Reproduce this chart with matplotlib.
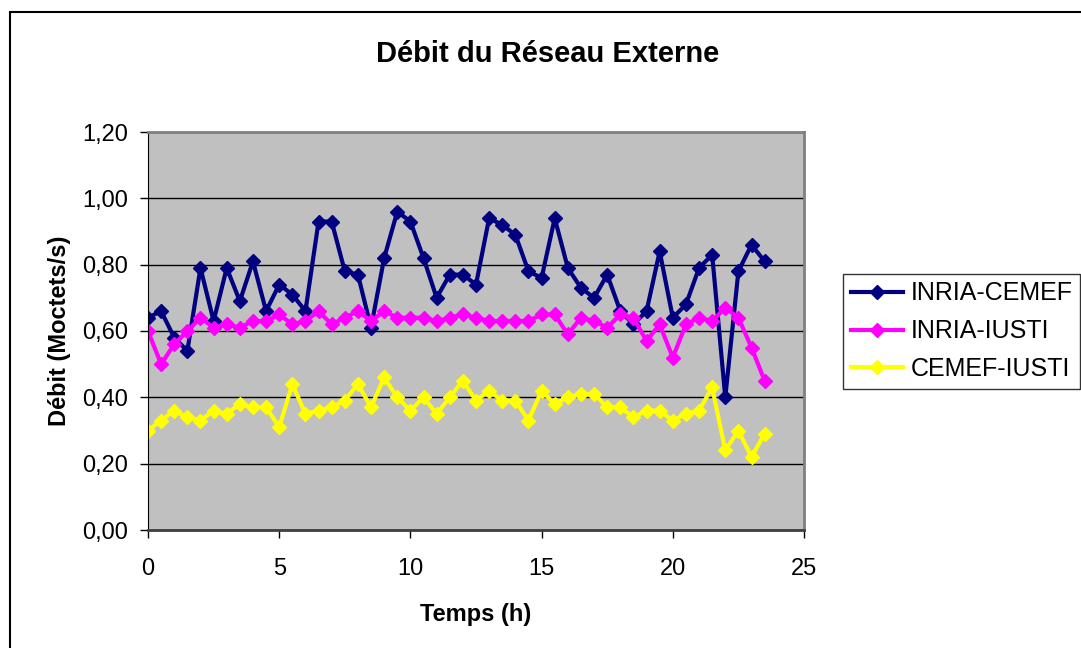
import matplotlib.pyplot as plt
import numpy as np
from matplotlib.patches import Rectangle

plt.rcParams['font.family'] = ['Liberation Sans', 'DejaVu Sans']

# temps en heures, un point toutes les 30 min
temps = np.arange(0, 24, 0.5)

inria_cemef = [0.64, 0.66, 0.58, 0.54, 0.79, 0.63, 0.79, 0.69, 0.81, 0.66,
               0.74, 0.71, 0.66, 0.93, 0.93, 0.78, 0.77, 0.61, 0.82, 0.96,
               0.93, 0.82, 0.70, 0.77, 0.77, 0.74, 0.94, 0.92, 0.89, 0.78,
               0.76, 0.94, 0.79, 0.73, 0.70, 0.77, 0.66, 0.62, 0.66, 0.84,
               0.64, 0.68, 0.79, 0.83, 0.40, 0.78, 0.86, 0.81]
inria_iusti = [0.60, 0.50, 0.56, 0.60, 0.64, 0.61, 0.62, 0.61, 0.63, 0.63,
               0.65, 0.62, 0.63, 0.66, 0.62, 0.64, 0.66, 0.63, 0.66, 0.64,
               0.64, 0.64, 0.63, 0.64, 0.65, 0.64, 0.63, 0.63, 0.63, 0.63,
               0.65, 0.65, 0.59, 0.64, 0.63, 0.61, 0.65, 0.64, 0.57, 0.62,
               0.52, 0.62, 0.64, 0.63, 0.67, 0.64, 0.55, 0.45]
cemef_iusti = [0.30, 0.33, 0.36, 0.34, 0.33, 0.36, 0.35, 0.38, 0.37, 0.37,
               0.31, 0.44, 0.35, 0.36, 0.37, 0.39, 0.44, 0.37, 0.46, 0.40,
               0.36, 0.40, 0.35, 0.40, 0.45, 0.39, 0.42, 0.39, 0.39, 0.33,
               0.42, 0.38, 0.40, 0.41, 0.41, 0.37, 0.37, 0.34, 0.36, 0.36,
               0.33, 0.35, 0.36, 0.43, 0.24, 0.30, 0.22, 0.29]

series = [('INRIA-CEMEF', inria_cemef, '#000080'),
          ('INRIA-IUSTI', inria_iusti, '#FF00FF'),
          ('CEMEF-IUSTI', cemef_iusti, '#FFFF00')]

W, H = 1081, 648
fig = plt.figure(figsize=(W / 100, H / 100), dpi=100)
ax = fig.add_axes([148 / W, 1 - 530 / H, 656 / W, 398 / H])
ax.set_facecolor('#C0C0C0')

for nom, vals, coul in series:
    ax.plot(temps, vals, color=coul, lw=3, marker='D', ms=7, label=nom)

ax.set_xlim(0, 25)
ax.set_ylim(0, 1.2)
ax.set_xticks(range(0, 26, 5))
ax.set_yticks(np.arange(0, 1.21, 0.2))
ax.set_yticklabels([('%.2f' % v).replace('.', ',') for v in np.arange(0, 1.21, 0.2)])
ax.tick_params(labelsize=17, length=5.5, width=1, direction='out')
ax.tick_params(axis='x', pad=15)
ax.tick_params(axis='y', pad=9)
ax.yaxis.grid(True, color='black', lw=1)
ax.set_axisbelow(True)

# bordures de la zone de tracé
ax.spines['top'].set_color('#808080')
ax.spines['right'].set_color('#808080')
ax.spines['top'].set_linewidth(2)
ax.spines['right'].set_linewidth(2)
ax.spines['left'].set_color('black')
ax.spines['bottom'].set_color('#404040')
ax.spines['bottom'].set_linewidth(2)

ax.set_xlabel('Temps (h)', fontsize=17, fontweight='bold', labelpad=16)
ax.set_ylabel('Débit (Moctets/s)', fontsize=17, fontweight='bold', labelpad=8)
fig.text(548 / W, 1 - 54 / H, 'Débit du Réseau Externe', fontsize=21,
         fontweight='bold', ha='center', va='center')

leg = ax.legend(loc='upper left', bbox_to_anchor=(843 / W, 1 - 274 / H),
                bbox_transform=fig.transFigure, fontsize=18, frameon=True,
                fancybox=False, edgecolor='black', borderpad=0.3,
                handlelength=2.1, handletextpad=0.3, labelspacing=0.55,
                borderaxespad=0)
leg.get_frame().set_linewidth(1)
leg.get_frame().set_facecolor('white')

# cadre du graphique
fig.add_artist(Rectangle((10 / W, -0.1), 1.1, 1.1 - 12 / H, transform=fig.transFigure,
                         fill=False, edgecolor='black', lw=1.5, clip_on=False))

fig.savefig('out.png', dpi=100)
